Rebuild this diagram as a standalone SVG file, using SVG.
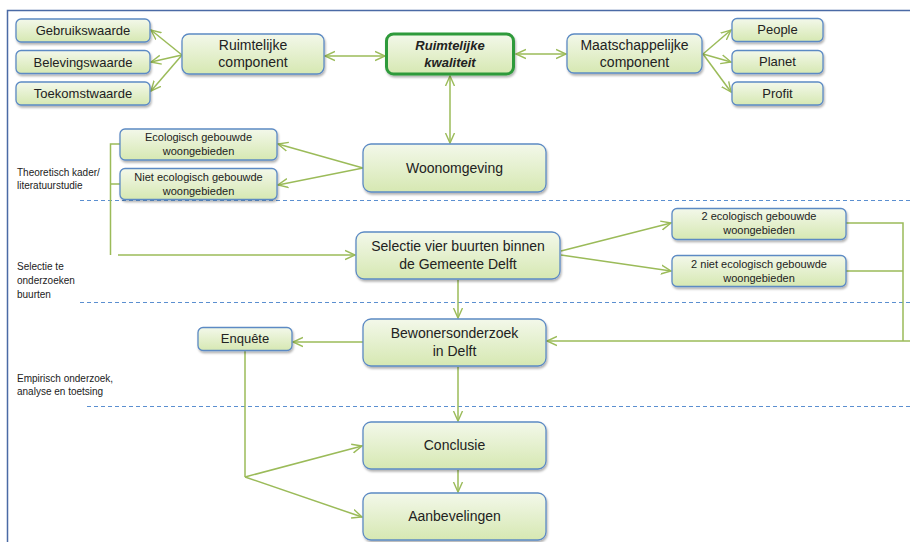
<svg xmlns="http://www.w3.org/2000/svg" width="910" height="542" viewBox="0 0 910 542">
<defs>
<linearGradient id="g" x1="0" y1="0" x2="0" y2="1">
<stop offset="0" stop-color="#f3f8ea"/>
<stop offset="1" stop-color="#d6e8b2"/>
</linearGradient>
<filter id="sh" x="-10%" y="-20%" width="120%" height="150%">
<feDropShadow dx="1" dy="2" stdDeviation="1.2" flood-color="#000" flood-opacity="0.3"/>
</filter>
<marker id="a" markerUnits="userSpaceOnUse" markerWidth="12" markerHeight="12" refX="10" refY="5" viewBox="0 0 12 10" orient="auto-start-reverse">
<path d="M0,0.5 L10,5 L0,9.5" fill="none" stroke="#9bbb59" stroke-width="1.4"/>
</marker>
</defs>
<style>
.b{fill:url(#g);stroke:#5c8ac4;stroke-width:1.3;filter:url(#sh)}
.k{fill:url(#g);stroke:#2f9a3a;stroke-width:3;filter:url(#sh)}
text{font-family:"Liberation Sans",Arial,sans-serif;fill:#222;text-anchor:middle}
.t13{font-size:13px}
.t14{font-size:14px}
.t11{font-size:11px}
.lab{font-size:10px;text-anchor:start}
.c{fill:none;stroke:#9bbb59;stroke-width:1.5}
.d{fill:none;stroke:#5b8fd0;stroke-width:1;stroke-dasharray:4 3}
</style>
<rect width="910" height="542" fill="#fff"/>
<path d="M7.5,542 V10.5 H910" fill="none" stroke="#4a6aa5" stroke-width="1.5"/>
<g id="lanes">
<line class="d" x1="80" y1="200.5" x2="910" y2="200.5"/>
<line class="d" x1="80" y1="302.5" x2="910" y2="302.5"/>
<line class="d" x1="87" y1="406.5" x2="910" y2="406.5"/>
<text class="lab" x="17" y="176">Theoretisch kader/</text>
<text class="lab" x="17" y="189">literatuurstudie</text>
<text class="lab" x="17" y="270">Selectie te</text>
<text class="lab" x="17" y="284">onderzoeken</text>
<text class="lab" x="17" y="298">buurten</text>
<text class="lab" x="17" y="382">Empirisch onderzoek,</text>
<text class="lab" x="17" y="395">analyse en toetsing</text>
</g>
<g id="connectors">
<line class="c" x1="182" y1="55" x2="151" y2="30" marker-end="url(#a)"/>
<line class="c" x1="182" y1="55" x2="151" y2="62" marker-end="url(#a)"/>
<line class="c" x1="182" y1="55" x2="151" y2="91" marker-end="url(#a)"/>
<line class="c" x1="325" y1="56" x2="385" y2="56" marker-start="url(#a)" marker-end="url(#a)"/>
<line class="c" x1="516" y1="54" x2="566" y2="54" marker-start="url(#a)" marker-end="url(#a)"/>
<line class="c" x1="703" y1="54" x2="731" y2="30" marker-end="url(#a)"/>
<line class="c" x1="703" y1="54" x2="731" y2="62" marker-end="url(#a)"/>
<line class="c" x1="703" y1="54" x2="731" y2="92" marker-end="url(#a)"/>
<line class="c" x1="450" y1="76" x2="450" y2="143" marker-start="url(#a)" marker-end="url(#a)"/>
<line class="c" x1="363" y1="168" x2="278" y2="144" marker-end="url(#a)"/>
<line class="c" x1="363" y1="168" x2="278" y2="185" marker-end="url(#a)"/>
<path class="c" d="M120,144 H110.5 V255 M110.5,184 H120"/>
<line class="c" x1="118" y1="255" x2="355" y2="255" marker-end="url(#a)"/>
<line class="c" x1="561" y1="251" x2="671" y2="223" marker-end="url(#a)"/>
<line class="c" x1="561" y1="255" x2="671" y2="271" marker-end="url(#a)"/>
<path class="c" d="M846,223 H903 V341 M846,271 H903"/>
<line class="c" x1="910" y1="341" x2="547" y2="341" marker-end="url(#a)"/>
<line class="c" x1="458" y1="280" x2="458" y2="318" marker-end="url(#a)"/>
<line class="c" x1="363" y1="342" x2="293" y2="342" marker-end="url(#a)"/>
<line class="c" x1="458" y1="367" x2="458" y2="421" marker-end="url(#a)"/>
<line class="c" x1="458" y1="470" x2="458" y2="492" marker-end="url(#a)"/>
<path class="c" d="M245,351 V477"/>
<line class="c" x1="245" y1="477" x2="362" y2="446" marker-end="url(#a)"/>
<line class="c" x1="245" y1="477" x2="362" y2="517" marker-end="url(#a)"/>
</g>
<g id="gebruikswaarde"><rect class="b" x="16" y="19" width="134" height="23" rx="5"/><text class="t13" x="83" y="35">Gebruikswaarde</text></g>
<g id="belevingswaarde"><rect class="b" x="16" y="50.5" width="134" height="23" rx="5"/><text class="t13" x="83" y="66.5">Belevingswaarde</text></g>
<g id="toekomstwaarde"><rect class="b" x="16" y="82" width="134" height="23" rx="5"/><text class="t13" x="83" y="98">Toekomstwaarde</text></g>
<g id="ruimtelijke-component"><rect class="b" x="182" y="34" width="142" height="40" rx="7"/><text class="t14" x="253" y="50">Ruimtelijke</text><text class="t14" x="253" y="67">component</text></g>
<g id="ruimtelijke-kwaliteit"><rect class="k" x="386.5" y="34" width="127" height="40" rx="7"/><text class="t13" x="450" y="50" font-weight="bold" font-style="italic">Ruimtelijke</text><text class="t13" x="450" y="67" font-weight="bold" font-style="italic">kwaliteit</text></g>
<g id="maatschappelijke-component"><rect class="b" x="567" y="34" width="135" height="39" rx="7"/><text class="t14" x="634.5" y="50">Maatschappelijke</text><text class="t14" x="634.5" y="67">component</text></g>
<g id="people"><rect class="b" x="732" y="18.5" width="91" height="23" rx="5"/><text class="t13" x="777.5" y="34">People</text></g>
<g id="planet"><rect class="b" x="732" y="50.5" width="91" height="23" rx="5"/><text class="t13" x="777.5" y="66">Planet</text></g>
<g id="profit"><rect class="b" x="732" y="82" width="91" height="23" rx="5"/><text class="t13" x="777.5" y="98">Profit</text></g>
<g id="ecologisch"><rect class="b" x="120" y="129" width="157" height="31" rx="5"/><text class="t11" x="198.5" y="141">Ecologisch gebouwde</text><text class="t11" x="198.5" y="155">woongebieden</text></g>
<g id="niet-ecologisch"><rect class="b" x="120" y="168.5" width="157" height="31" rx="5"/><text class="t11" x="198.5" y="181">Niet ecologisch  gebouwde</text><text class="t11" x="198.5" y="195">woongebieden</text></g>
<g id="woonomgeving"><rect class="b" x="363" y="144" width="183" height="48" rx="8"/><text class="t14" x="454.5" y="173">Woonomgeving</text></g>
<g id="selectie"><rect class="b" x="356" y="232" width="204" height="47" rx="8"/><text class="t14" x="458" y="251">Selectie vier buurten binnen</text><text class="t14" x="458" y="269">de Gemeente Delft</text></g>
<g id="twee-ecologisch"><rect class="b" x="672" y="208.5" width="174" height="31" rx="5"/><text class="t11" x="759" y="220">2 ecologisch  gebouwde</text><text class="t11" x="759" y="234">woongebieden</text></g>
<g id="twee-niet-ecologisch"><rect class="b" x="672" y="255.5" width="174" height="31" rx="5"/><text class="t11" x="759" y="268">2 niet ecologisch  gebouwde</text><text class="t11" x="759" y="282">woongebieden</text></g>
<g id="bewonersonderzoek"><rect class="b" x="363" y="319" width="183" height="47" rx="8"/><text class="t14" x="454.5" y="338">Bewonersonderzoek</text><text class="t14" x="454.5" y="356">in Delft</text></g>
<g id="enquete"><rect class="b" x="198" y="327.5" width="94" height="23" rx="5"/><text class="t13" x="245" y="343">Enquête</text></g>
<g id="conclusie"><rect class="b" x="363" y="422" width="183" height="47" rx="8"/><text class="t14" x="454.5" y="450">Conclusie</text></g>
<g id="aanbevelingen"><rect class="b" x="363" y="493" width="183" height="47" rx="8"/><text class="t14" x="454.5" y="521">Aanbevelingen</text></g>
</svg>
